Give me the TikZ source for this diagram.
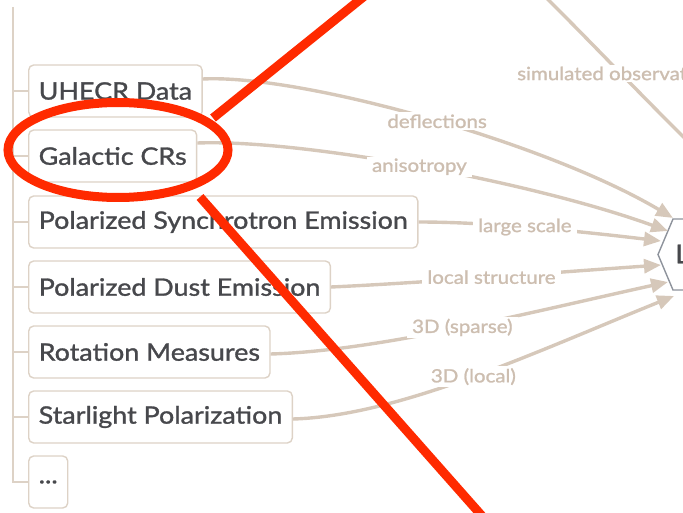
\documentclass[tikz,border=0pt]{standalone}
\usepackage{fontspec}
\setmainfont{Lato}
\newfontfamily\boxfont{Lato}[FakeStretch=1.12, FakeBold=1.2]
\newfontfamily\labelfont{Lato}[FakeStretch=1.12, FakeBold=1.2]
\usetikzlibrary{arrows.meta,calc}
\definecolor{edgebeige}{HTML}{D6C8BA}
\definecolor{labelbeige}{HTML}{CDBEB0}
\definecolor{boxline}{HTML}{DDD2C6}
\definecolor{boxtext}{HTML}{47484C}
\definecolor{hexline}{HTML}{8E939C}
\definecolor{markred}{HTML}{FF2A00}
\tikzset{
  srcbox/.style={draw=boxline, line width=1.4pt, rounded corners=5pt, fill=white,
    anchor=west, minimum height=52pt, inner xsep=10pt, inner ysep=0pt,
    text=boxtext, font=\boxfont\fontsize{24}{27}\selectfont},
  flow/.style={draw=edgebeige, line width=3.4pt,
    -{Triangle[length=17pt,width=14pt]}},
  plainflow/.style={draw=edgebeige, line width=3.4pt},
  flowlabel/.style={fill=white, text=labelbeige, inner xsep=5pt, inner ysep=2pt,
    font=\labelfont\fontsize{18.3}{21}\selectfont},
  trunk/.style={draw=boxline, line width=1.4pt},
  redmark/.style={draw=markred, line width=9pt},
}
\begin{document}
\begin{tikzpicture}[x=1pt,y=-1pt]
\useasboundingbox (0,0) rectangle (683,513);
\clip (0,0) rectangle (683,513);

% target node, mostly beyond the right edge
\draw[hexline, line width=1.4pt, fill=white]
  (760,219) -- (673,219) -- (658,254.5) -- (673,290) -- (760,290);
\node[anchor=west, text=boxtext, font=\boxfont\fontsize{26}{28}\selectfont, inner sep=0pt]
  (target) at (675,254) {L};

% arrow end points on the target's left side
\coordinate (inA) at (673,218);
\coordinate (inB) at (668,231);
\coordinate (inC) at (661,241);
\coordinate (inD) at (661,265);
\coordinate (inE) at (668,282);
\coordinate (inF) at (674,296);
\coordinate (simTop) at (530,-18);
\coordinate (simEnd) at (705,158);

% source boxes
\node[srcbox] (uhecr) at (28,91)  {UHECR Data};
\node[srcbox] (gcr)   at (28,156) {Galactic CRs};
\node[srcbox] (sync)  at (28,222) {Polarized Synchrotron Emission};
\node[srcbox] (dust)  at (28,287) {Polarized Dust Emission};
\node[srcbox] (rm)    at (28,352) {Rotation Measures};
\node[srcbox] (star)  at (28,417) {Starlight Polarization};
\node[srcbox] (more)  at (28,482) {...};

% tree trunk with branches
\coordinate (trunkTop) at (13,7);
\draw[trunk] (trunkTop) -- (trunkTop |- more.west) -- (more.west);
\foreach \b in {uhecr,gcr,sync,dust,rm,star}
  \draw[trunk] (trunkTop |- \b.west) -- (\b.west);

% connectors
\draw[flow] ([yshift=12pt]uhecr.east) .. controls (300,74) and (545,142) .. (inA)
  node[flowlabel, pos=0.52] {deflections};
\draw[flow] ([yshift=13pt]gcr.east) .. controls (300,139) and (530,181) .. (inB)
  node[flowlabel, pos=0.5] {anisotropy};
\draw[flow] (sync.east) .. controls (480,222) and (560,229) .. (inC)
  node[flowlabel, pos=0.5] {large scale};
\draw[flow] (dust.east) .. controls (420,283) and (560,272) .. (inD)
  node[flowlabel, pos=0.5] {local structure};
\draw[flow] ([yshift=-2pt]rm.east) .. controls (380,351) and (540,310) .. (inE)
  node[flowlabel, pos=0.5] {3D (sparse)};
\draw[flow] ([yshift=-2pt]star.east) .. controls (400,416) and (540,350) .. (inF)
  node[flowlabel, pos=0.5] {3D (local)};
\draw[plainflow] (simTop) .. controls (580,30) and (640,95) .. (simEnd)
  node[flowlabel, pos=0.55] {simulated observations};

% red annotation marks
\draw[redmark] (118,150) ellipse [x radius=110, y radius=47.5];
\draw[redmark] (213,118) -- (372,-10);
\draw[redmark] (200,197) -- (490,525);
\end{tikzpicture}
\end{document}
